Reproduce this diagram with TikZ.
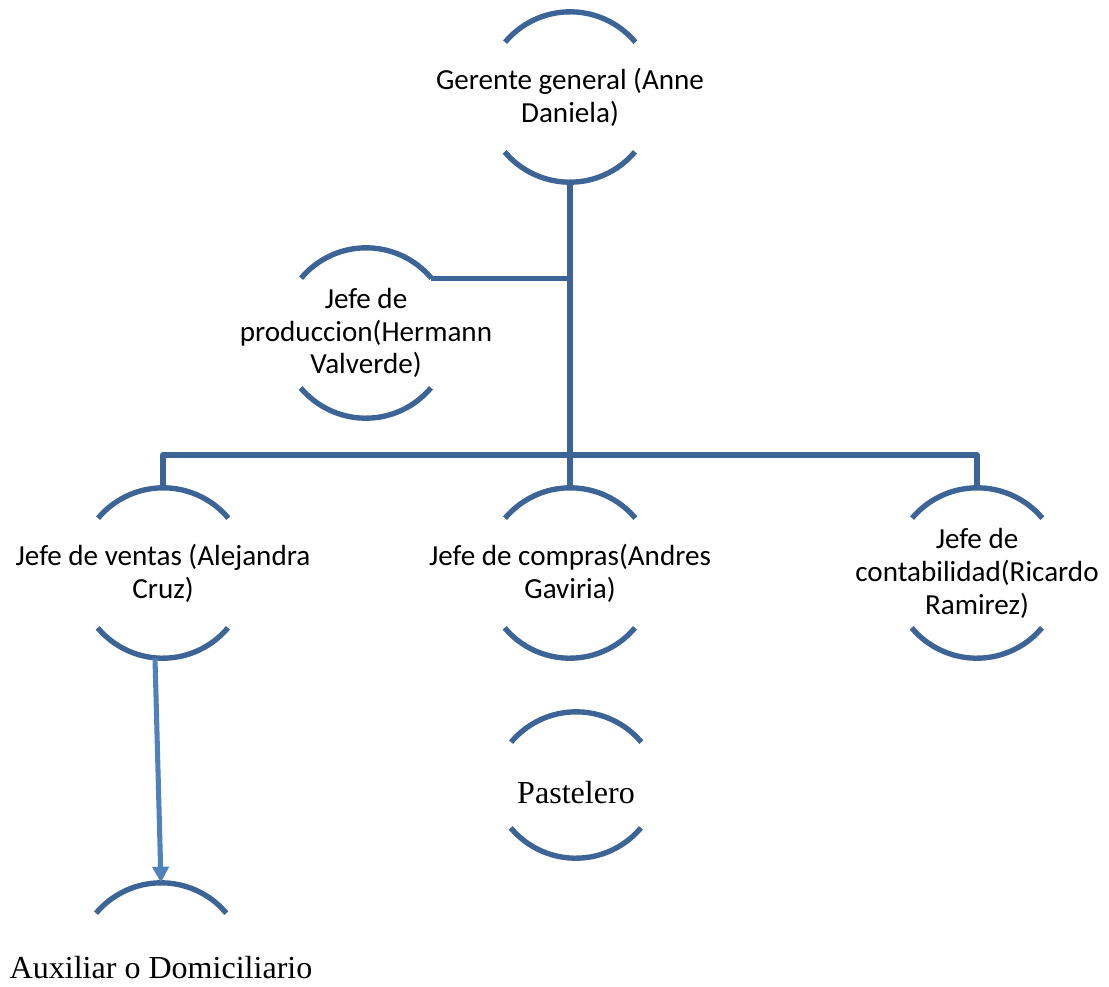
\documentclass[tikz,border=0pt]{standalone}
\usepackage{fontspec}
\setmainfont{Carlito}
\newfontfamily\serifrm{Liberation Serif}
\usepackage{xcolor}
\usepackage{tikz}
\usetikzlibrary{arrows.meta,positioning}

\definecolor{arcblue}{HTML}{3C6496}
\definecolor{arrowblue}{HTML}{4F81BD}

\begin{document}
\begin{tikzpicture}[
    x=0.025cm, y=-0.025cm,
    unit/.style={circle, minimum size=4.25cm, inner sep=0pt},
    txt/.style={align=center, font=\fontsize{20.7}{23.4}\selectfont},
    rmtxt/.style={align=center, font=\serifrm\fontsize{22.8}{27}\selectfont},
    arcline/.style={draw=arcblue, line width=3.8pt},
    link/.style={draw=arcblue, line width=3.6pt, line join=round},
    arrow/.style={draw=arrowblue, line width=3.6pt, -{Triangle[length=0.4cm,width=0.4cm]}}
]
    \useasboundingbox (0,0) rectangle (1109,986);

    \node[unit, label={[txt]center:{Gerente general (Anne\\Daniela)}}] (gerente) at (570,97) {};
    \node[unit, label={[txt]center:{Jefe de\\produccion(Hermann\\Valverde)}}] (produccion) at (366,333) {};
    \node[unit, label={[txt]center:{Jefe de ventas (Alejandra\\Cruz)}}] (ventas) at (163,573) {};
    \node[unit, label={[txt]center:{Jefe de compras(Andres\\Gaviria)}}] (compras) at (570,573) {};
    \node[unit, label={[txt]center:{Jefe de\\contabilidad(Ricardo\\Ramirez)}}] (contabilidad) at (977,573) {};
    \node[unit, label={[rmtxt, yshift=-0.2cm]center:Pastelero}] (pastelero) at (576,785) {};
    \node[unit, label={[rmtxt]center:Auxiliar o Domiciliario}] (auxiliar) at (161,968) {};
    \coordinate (bar) at (570,455);

    % arcs above and below each name
    \draw[arcline] (gerente.40) arc[start angle=40, end angle=140, radius=2.125cm]
        (gerente.220) arc[start angle=220, end angle=320, radius=2.125cm];
    \draw[arcline] (produccion.40) arc[start angle=40, end angle=140, radius=2.125cm]
        (produccion.220) arc[start angle=220, end angle=320, radius=2.125cm];
    \draw[arcline] (ventas.40) arc[start angle=40, end angle=140, radius=2.125cm]
        (ventas.220) arc[start angle=220, end angle=320, radius=2.125cm];
    \draw[arcline] (compras.40) arc[start angle=40, end angle=140, radius=2.125cm]
        (compras.220) arc[start angle=220, end angle=320, radius=2.125cm];
    \draw[arcline] (contabilidad.40) arc[start angle=40, end angle=140, radius=2.125cm]
        (contabilidad.220) arc[start angle=220, end angle=320, radius=2.125cm];
    \draw[arcline] ([yshift=-0.3cm]pastelero.40) arc[start angle=40, end angle=140, radius=2.125cm]
        ([yshift=0.3cm]pastelero.220) arc[start angle=220, end angle=320, radius=2.125cm];
    \draw[arcline] (auxiliar.40) arc[start angle=40, end angle=140, radius=2.125cm];

    % connectors
    \draw[link] (gerente.south) -- (compras.north);
    \draw[link] (produccion.40) -- (produccion.40 -| gerente.south);
    \draw[link] (ventas.north) |- (bar) -| (contabilidad.north);
    \draw[arrow] ([xshift=-0.2cm]ventas.south) -- (auxiliar.north);
\end{tikzpicture}
\end{document}
